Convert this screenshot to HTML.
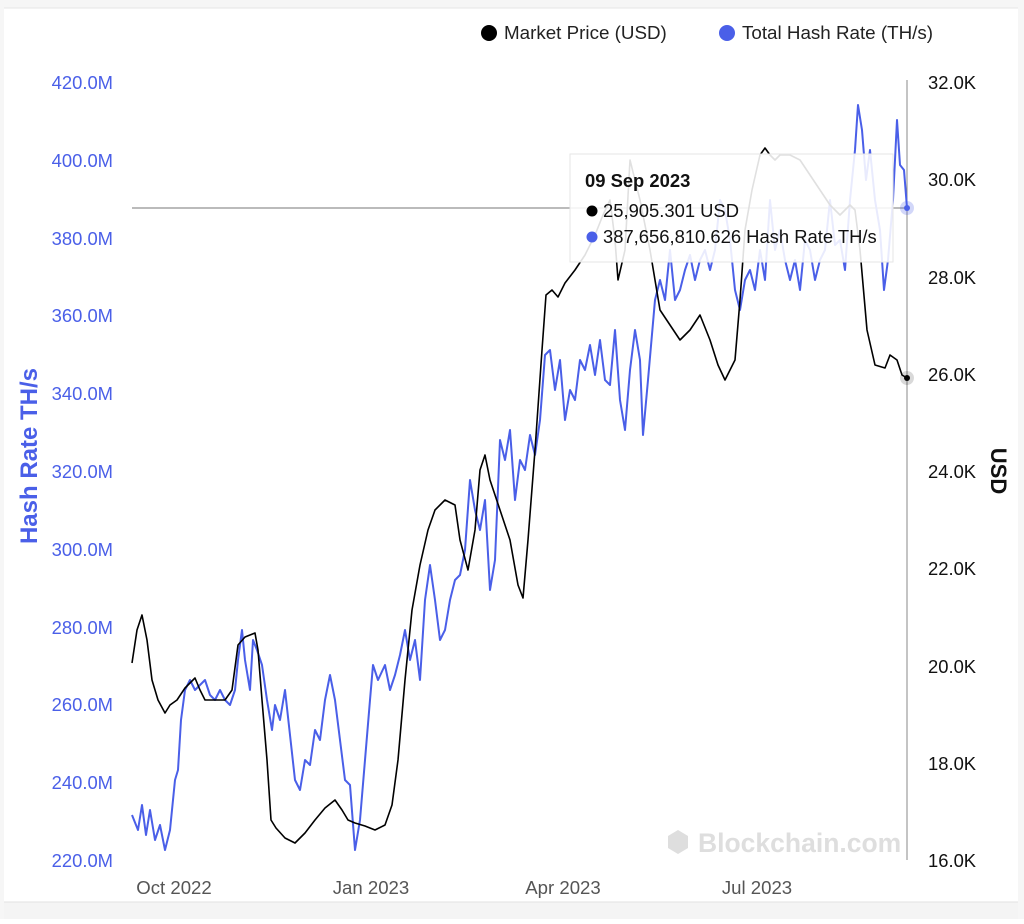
<!DOCTYPE html>
<html><head><meta charset="utf-8"><style>
html,body{margin:0;padding:0;background:#fff}
body{width:1024px;height:919px;overflow:hidden;font-family:"Liberation Sans",sans-serif}
</style></head><body>
<svg width="1024" height="919" xmlns="http://www.w3.org/2000/svg" font-family="Liberation Sans, sans-serif">
<rect x="0" y="0" width="1024" height="919" fill="#f6f6f6"/>
<rect x="4" y="8" width="1014" height="894" fill="#fff"/>
<rect x="4" y="902" width="1014" height="17" fill="#f4f4f4"/>
<line x1="4" y1="902" x2="1018" y2="902" stroke="#e2e2e2"/>
<line x1="4" y1="8" x2="1018" y2="8" stroke="#e6e6e6"/>
<!-- legend -->
<circle cx="489" cy="33" r="8" fill="#000"/>
<text x="504" y="39" font-size="18.8" fill="#222">Market Price (USD)</text>
<circle cx="727" cy="33" r="8" fill="#4a5fe8"/>
<text x="742" y="39" font-size="18.8" fill="#222">Total Hash Rate (TH/s)</text>
<!-- left axis -->
<g font-size="18.4" fill="#4a5fe8" text-anchor="end">
<text x="113" y="89">420.0M</text><text x="113" y="167">400.0M</text><text x="113" y="245">380.0M</text>
<text x="113" y="322">360.0M</text><text x="113" y="400">340.0M</text><text x="113" y="478">320.0M</text>
<text x="113" y="556">300.0M</text><text x="113" y="634">280.0M</text><text x="113" y="711">260.0M</text>
<text x="113" y="789">240.0M</text><text x="113" y="867">220.0M</text>
</g>
<text transform="translate(37,456) rotate(-90)" font-size="24" font-weight="bold" fill="#4a5fe8" text-anchor="middle">Hash Rate TH/s</text>
<g font-size="18.4" fill="#111">
<text x="928" y="89">32.0K</text><text x="928" y="186">30.0K</text><text x="928" y="284">28.0K</text>
<text x="928" y="381">26.0K</text><text x="928" y="478">24.0K</text><text x="928" y="575">22.0K</text>
<text x="928" y="673">20.0K</text><text x="928" y="770">18.0K</text><text x="928" y="867">16.0K</text>
</g>
<text transform="translate(991,471) rotate(90)" font-size="22" font-weight="bold" fill="#111" text-anchor="middle">USD</text>
<g font-size="18.6" fill="#555" text-anchor="middle">
<text x="174" y="894">Oct 2022</text><text x="371" y="894">Jan 2023</text>
<text x="563" y="894">Apr 2023</text><text x="757" y="894">Jul 2023</text>
</g>
<text x="698" y="852" font-size="26.5" font-weight="bold" fill="#dedede">Blockchain.com</text>
<path d="M668 836 l10 -6 l10 6 v12 l-10 6 l-10 -6z" fill="#dedede"/>
<line x1="907" y1="80" x2="907" y2="860" stroke="#888"/>
<line x1="132" y1="208" x2="907" y2="208" stroke="#777"/>
<polyline fill="none" stroke="#4a5fe8" stroke-width="2" stroke-linejoin="round" points="132,815 138,830 142,805 146,835 150,810 155,840 160,825 165,850 170,830 175,780 178,770 181,720 185,690 190,680 195,690 200,685 205,680 210,695 215,700 220,690 225,700 230,705 235,690 238,660 242,630 245,660 250,690 253,640 257,650 262,665 267,700 272,730 275,705 280,720 285,690 290,735 295,780 300,790 305,760 310,765 315,730 320,740 325,700 330,675 335,700 340,740 345,780 350,785 355,850 360,820 365,760 370,700 373,665 378,680 385,665 390,690 395,675 400,655 405,630 410,660 415,640 420,680 425,600 430,565 435,600 440,640 445,630 450,600 455,580 460,575 465,550 470,480 475,510 480,530 485,500 490,590 495,560 500,440 505,460 510,430 515,500 520,460 525,470 530,435 535,455 540,420 545,355 550,350 555,390 560,360 565,420 570,390 575,400 580,360 585,370 590,345 595,375 600,340 605,380 610,385 615,330 620,400 625,430 630,370 635,330 640,360 643,435 648,380 655,300 660,280 665,300 670,250 675,300 680,290 685,270 690,255 695,280 700,260 705,250 710,270 715,250 720,200 725,210 730,240 735,290 740,310 745,280 750,270 755,290 760,250 765,280 770,200 775,250 780,230 785,260 790,280 795,260 800,290 805,240 810,250 815,280 820,260 825,250 830,200 835,245 840,240 845,270 850,200 855,150 858,105 862,130 866,180 870,150 875,200 880,230 884,290 888,260 893,200 897,120 900,165 904,170 907,208"/>
<polyline fill="none" stroke="#000" stroke-width="1.6" stroke-linejoin="round" points="132,663 137,630 142,615 147,640 152,680 158,700 165,713 170,705 177,700 185,688 195,678 200,690 205,700 215,700 225,700 232,690 238,645 245,637 250,635 255,633 258,650 262,700 267,760 271,820 276,828 285,838 295,843 305,833 315,820 325,808 335,800 342,810 348,820 355,823 365,826 375,830 385,825 392,805 398,760 405,680 412,610 420,565 428,530 435,510 445,500 455,505 460,540 468,570 475,530 480,470 485,455 490,480 500,510 510,540 518,585 523,598 528,540 535,450 542,350 546,295 552,290 558,297 565,283 575,270 585,255 595,235 603,215 610,200 615,240 618,280 625,250 630,160 640,200 650,250 660,310 670,325 680,340 690,330 700,315 710,340 718,365 725,380 735,360 740,300 745,230 752,190 760,155 765,148 770,155 775,160 780,155 790,155 800,160 810,175 820,190 830,205 840,215 850,205 855,210 860,250 867,330 875,365 885,368 890,355 897,360 902,375 907,378"/>
<circle cx="907" cy="378" r="7" fill="#000" opacity="0.15"/>
<circle cx="907" cy="378" r="3" fill="#000"/>
<circle cx="907" cy="208" r="7" fill="#4a5fe8" opacity="0.25"/>
<circle cx="907" cy="208" r="3" fill="#4a5fe8"/>
<rect x="570" y="154" width="323" height="108" fill="#fff" fill-opacity="0.88" stroke="#e6e6e6"/>
<text x="585" y="187" font-size="18.4" font-weight="bold" fill="#111">09 Sep 2023</text>
<circle cx="592" cy="211" r="5.5" fill="#000"/>
<text x="603" y="217" font-size="18.4" fill="#111">25,905.301 USD</text>
<circle cx="592" cy="237" r="5.5" fill="#4a5fe8"/>
<text x="603" y="243" font-size="18.4" fill="#111">387,656,810.626 Hash Rate TH/s</text>
</svg>
</body></html>
